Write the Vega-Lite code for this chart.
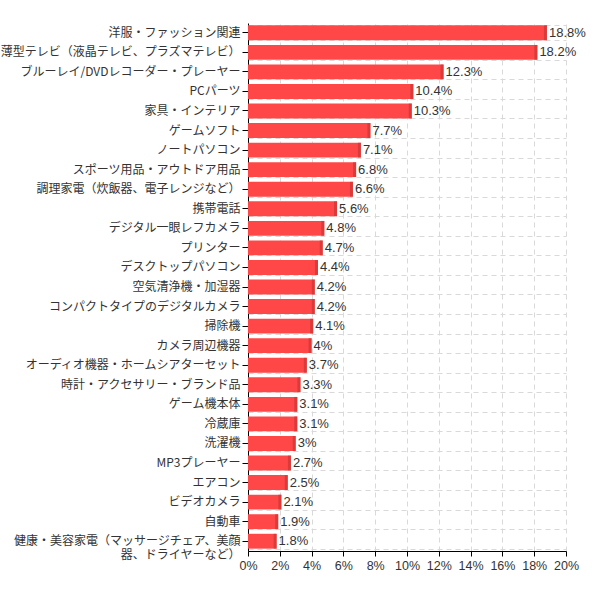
{
  "$schema": "https://vega.github.io/schema/vega-lite/v6.json",
  "width": 318,
  "height": 528,
  "autosize": "none",
  "padding": {"left": 248, "top": 23, "right": 32, "bottom": 47},
  "background": "white",
  "data": {
    "values": [
      {"item": "洋服・ファッション関連", "share": 0.188},
      {"item": "薄型テレビ（液晶テレビ、プラズマテレビ）", "share": 0.182},
      {"item": "ブルーレイ/DVDレコーダー・プレーヤー", "share": 0.123},
      {"item": "PCパーツ", "share": 0.104},
      {"item": "家具・インテリア", "share": 0.103},
      {"item": "ゲームソフト", "share": 0.077},
      {"item": "ノートパソコン", "share": 0.071},
      {"item": "スポーツ用品・アウトドア用品", "share": 0.068},
      {"item": "調理家電（炊飯器、電子レンジなど）", "share": 0.066},
      {"item": "携帯電話", "share": 0.056},
      {"item": "デジタル一眼レフカメラ", "share": 0.048},
      {"item": "プリンター", "share": 0.047},
      {"item": "デスクトップパソコン", "share": 0.044},
      {"item": "空気清浄機・加湿器", "share": 0.042},
      {"item": "コンパクトタイプのデジタルカメラ", "share": 0.042},
      {"item": "掃除機", "share": 0.041},
      {"item": "カメラ周辺機器", "share": 0.04},
      {"item": "オーディオ機器・ホームシアターセット", "share": 0.037},
      {"item": "時計・アクセサリー・ブランド品", "share": 0.033},
      {"item": "ゲーム機本体", "share": 0.031},
      {"item": "冷蔵庫", "share": 0.031},
      {"item": "洗濯機", "share": 0.03},
      {"item": "MP3プレーヤー", "share": 0.027},
      {"item": "エアコン", "share": 0.025},
      {"item": "ビデオカメラ", "share": 0.021},
      {"item": "自動車", "share": 0.019},
      {"item": "健康・美容家電（マッサージチェア、美顔器、ドライヤーなど）", "share": 0.018}
    ]
  },
  "config": {
    "view": {"stroke": null},
    "axis": {
      "domainColor": "#000",
      "tickColor": "#000",
      "labelColor": "#333",
      "labelFontSize": 12,
      "gridColor": "#d9d9d9",
      "gridDash": [5, 4]
    },
    "axisX": {
      "labelOverlap": false,
      "labelFlush": false,
      "labelFont": "Liberation Sans",
      "labelFontSize": 12.5,
      "labelPadding": 3
    }
  },
  "encoding": {
    "x": {
      "field": "share",
      "type": "quantitative",
      "scale": {"domain": [0, 0.2]},
      "axis": {
        "title": null,
        "values": [0, 0.02, 0.04, 0.06, 0.08, 0.1, 0.12, 0.14, 0.16, 0.18, 0.2],
        "format": ".0%",
        "labelOverlap": false,
        "grid": true
      }
    },
    "y": {
      "field": "item",
      "type": "nominal",
      "sort": null,
      "scale": {"paddingInner": 0.24, "paddingOuter": 0.12}
    }
  },
  "layer": [
    {
      "mark": {"type": "bar", "color": "#ff4747"},
      "encoding": {
        "y": {
          "field": "item",
          "type": "nominal",
          "sort": null,
          "axis": {
            "orient": "left",
            "title": null,
            "labels": false,
            "ticks": false,
            "domain": false,
            "grid": true,
            "tickBand": "extent"
          }
        }
      }
    },
    {
      "mark": {"type": "tick", "color": "#c93434", "thickness": 3, "size": 14.8, "xOffset": -1.5},
      "encoding": {
        "y": {
          "field": "item",
          "type": "nominal",
          "sort": null,
          "axis": {
            "orient": "left",
            "title": null,
            "grid": false,
            "labelFont": "Noto Sans CJK JP",
            "labelFontSize": 12,
            "labelLimit": 250,
            "labelPadding": 2,
            "labelLineHeight": 14,
            "tickSize": 6,
            "labelExpr": "datum.label == '健康・美容家電（マッサージチェア、美顔器、ドライヤーなど）' ? ['健康・美容家電（マッサージチェア、美顔', '器、ドライヤーなど）'] : datum.label"
          }
        }
      }
    },
    {
      "mark": {"type": "text", "align": "left", "baseline": "middle", "dx": 2, "font": "Liberation Sans", "fontSize": 13, "color": "#333"},
      "encoding": {
        "y": {"field": "item", "type": "nominal", "sort": null, "axis": null},
        "text": {"field": "share", "type": "quantitative", "format": ".1~%"}
      }
    }
  ],
  "resolve": {"axis": {"y": "independent"}}
}
